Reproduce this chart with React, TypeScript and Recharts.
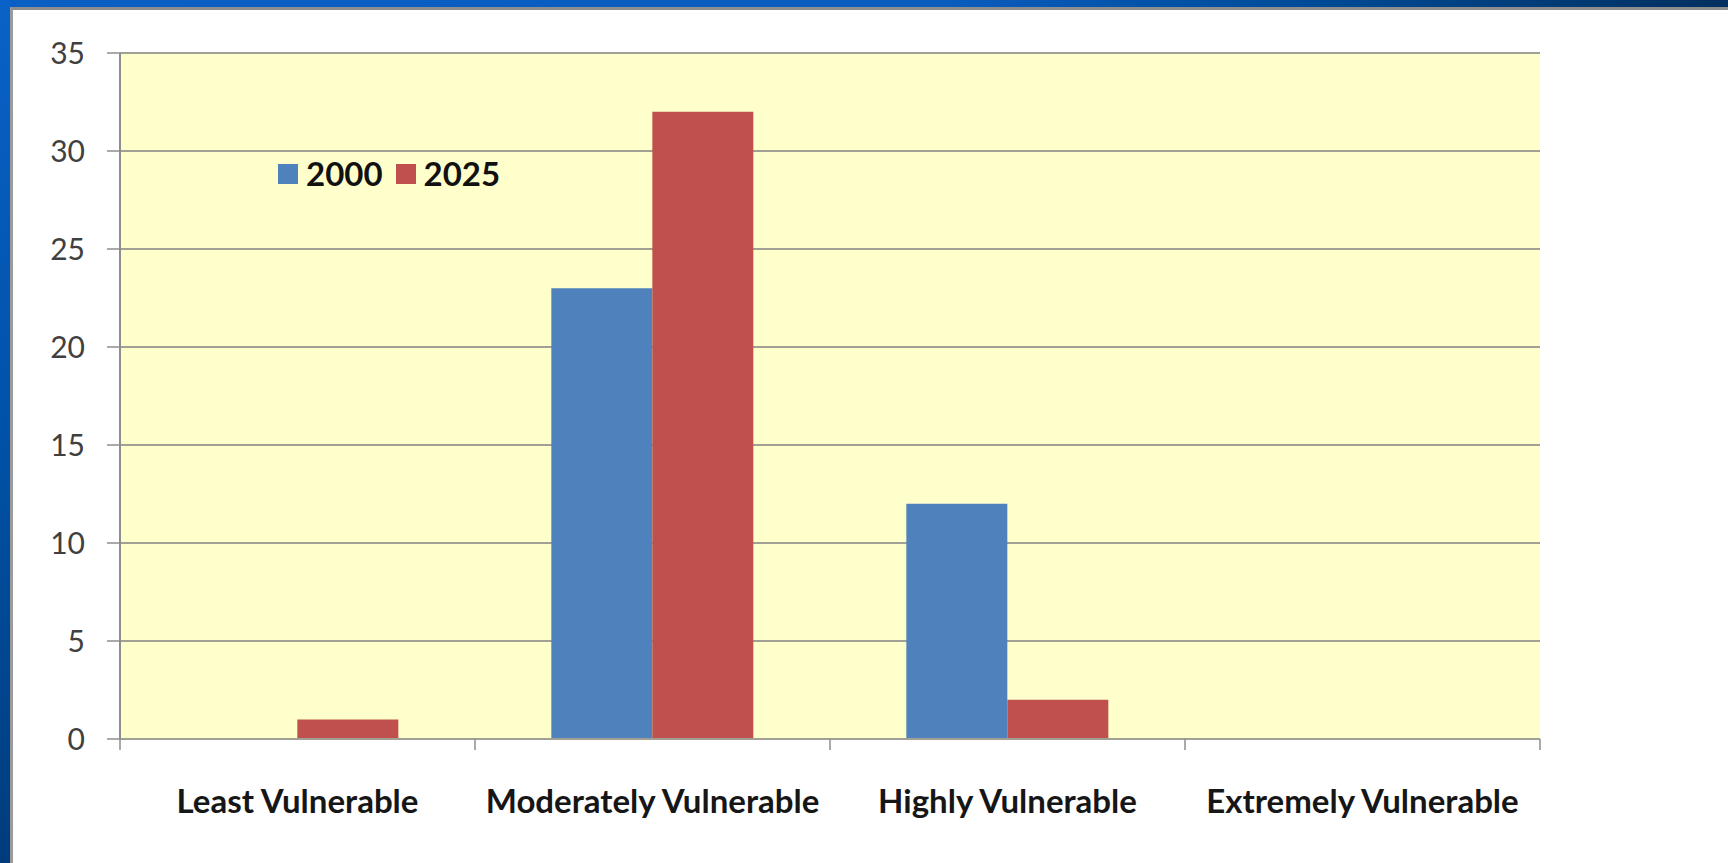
import React from 'react';
import { BarChart, Bar, XAxis, YAxis, CartesianGrid, Legend } from 'recharts';

const categories = ['Least Vulnerable', 'Moderately Vulnerable', 'Highly Vulnerable', 'Extremely Vulnerable'];
const values2000 = [0, 23, 12, 0];
const values2025 = [1, 32, 2, 0];
const yTicks = [0, 5, 10, 15, 20, 25, 30, 35];
const edgeTicks = [0, 1, 2, 3, 4];

const data = categories.map((name, i) => ({ name, y2000: values2000[i], y2025: values2025[i] }));

const FONT = 'Lato, "Open Sans", sans-serif';
const AXIS_GRAY = '#8e8e8e';

const renderLegend = (props: any) => {
  const items = props.payload || [];
  return (
    <div style={{ display: 'flex', alignItems: 'center', fontFamily: FONT, fontWeight: 700, fontSize: 33, color: '#111' }}>
      {items.map((it: any, i: number) => (
        <div key={i} style={{ display: 'flex', alignItems: 'center', marginRight: 13 }}>
          <span style={{ display: 'inline-block', width: 20, height: 20, background: it.color, marginRight: 8 }} />
          <span style={{ lineHeight: '33px' }}>{it.value}</span>
        </div>
      ))}
    </div>
  );
};

// boundary axis: a 0..4 numeric scale across the categories, tick marks only
const noLabel = () => <g />;
const categoryIndex = (_d: any, i?: number) => i ?? 0;

export default function App() {
  return (
    <div style={{ position: 'fixed', left: 0, top: 0, width: 1728, height: 863, overflow: 'hidden', background: '#0050a8' }}>
      <div style={{ position: 'absolute', left: 0, top: 0, width: 1728, height: 8, background: 'linear-gradient(to right, #0a5fc4 0%, #0a5cbd 55%, #004c99 75%, #002f5e 100%)' }} />
      <div style={{ position: 'absolute', left: 0, top: 0, width: 11, height: 863, background: 'linear-gradient(to bottom, #0a62c8 0%, #0052a8 50%, #003c7c 100%)' }} />
      <div style={{ position: 'absolute', left: 10, top: 7, width: 1718, height: 856, boxSizing: 'border-box', background: '#ffffff', borderLeft: '3px solid #9b9b9b', borderTop: '3px solid #8e8e8e' }} />
      <div style={{ position: 'absolute', left: 0, top: 0 }}>
        <BarChart
          width={1728}
          height={863}
          data={data}
          margin={{ top: 53, right: 188, bottom: 23, left: 0 }}
          barCategoryGap="21.5%"
          barGap={0}
        >
          <CartesianGrid vertical={false} fill="#ffffcc" stroke="#a0a094" strokeWidth={2} />
          <XAxis
            xAxisId={0}
            type="number"
            dataKey={categoryIndex}
            domain={[0, 4]}
            allowDataOverflow
            ticks={edgeTicks}
            interval={0}
            height={1}
            tick={noLabel}
            tickSize={11}
            tickLine={{ stroke: AXIS_GRAY, strokeWidth: 1.5 }}
            axisLine={{ stroke: '#a0a094', strokeWidth: 2 }}
          />
          <XAxis
            xAxisId="cat"
            dataKey="name"
            height={100}
            tickLine={false}
            axisLine={false}
            tickMargin={44}
            interval={0}
            tick={{ fontFamily: FONT, fontWeight: 700, fontSize: 33, fill: '#161616' }}
          />
          <YAxis
            width={120}
            domain={[0, 35]}
            ticks={yTicks}
            interval={0}
            tickSize={13}
            tickMargin={22}
            tickLine={{ stroke: AXIS_GRAY, strokeWidth: 1.5 }}
            axisLine={{ stroke: AXIS_GRAY, strokeWidth: 2 }}
            tick={{ fontFamily: FONT, fontSize: 30, fill: '#404040' }}
          />
          <Legend
            layout="vertical"
            align="center"
            verticalAlign="middle"
            content={renderLegend}
            wrapperStyle={{ left: 278, top: 157, width: 'auto', height: 33 }}
          />
          <Bar xAxisId="cat" dataKey="y2000" name="2000" fill="#4f81bd" isAnimationActive={false} />
          <Bar xAxisId="cat" dataKey="y2025" name="2025" fill="#c0504d" isAnimationActive={false} />
        </BarChart>
      </div>
    </div>
  );
}
